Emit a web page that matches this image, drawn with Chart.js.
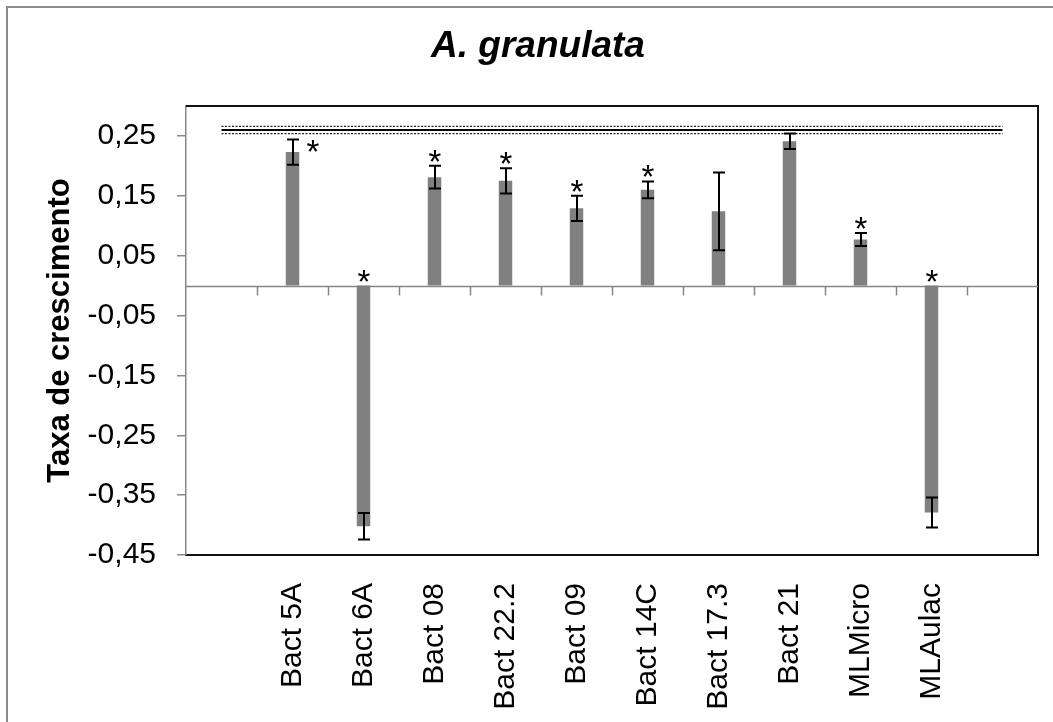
<!DOCTYPE html>
<html>
<head>
<meta charset="utf-8">
<script src="https://cdn.jsdelivr.net/npm/chart.js@4"></script>
<style>
  html, body { margin: 0; padding: 0; background: #fff; }
  #wrap { width: 1053px; height: 722px; }
</style>
</head>
<body>
<div id="wrap"><canvas id="growth-chart" width="1053" height="722"></canvas></div>
<script>
// empty slots at both ends keep the control line running past the first/last bar
const categories = ['', 'Bact 5A', 'Bact 6A', 'Bact 08', 'Bact 22.2', 'Bact 09', 'Bact 14C', 'Bact 17.3', 'Bact 21', 'MLMicro', 'MLAulac', ''];
const growthRates = [null, 0.223, -0.402, 0.181, 0.175, 0.129, 0.160, 0.124, 0.241, 0.077, -0.379, null];
const growthErrors = [null, 0.021, 0.022, 0.019, 0.021, 0.021, 0.014, 0.065, 0.013, 0.011, 0.025, null];
const significant = [false, true, true, true, true, true, true, false, false, true, true, false];
const yTicks = [0.25, 0.15, 0.05, -0.05, -0.15, -0.25, -0.35, -0.45];
const controlMean = 0.26;
const controlSd = 0.006;

const FONT = '"Liberation Sans", Arial, Helvetica, sans-serif';
const fmt = v => v.toFixed(2).replace('.', ',');

// outer frame, plot box edges and the zero line with its category ticks
const framePlugin = {
  id: 'frame',
  beforeDraw(chart) {
    const { ctx, width, height } = chart;
    ctx.save();
    ctx.fillStyle = '#fff';
    ctx.fillRect(0, 0, width, height);
    ctx.strokeStyle = '#8c8c8c';
    ctx.lineWidth = 2;
    ctx.strokeRect(7, 7, width + 20, height + 20);
    ctx.restore();
  },
  beforeDatasetsDraw(chart) {
    const { ctx, chartArea: a, scales: { x, y } } = chart;
    ctx.save();
    ctx.strokeStyle = '#111';
    ctx.lineWidth = 2;
    ctx.beginPath();
    ctx.moveTo(a.left, a.top); ctx.lineTo(a.right, a.top); ctx.lineTo(a.right, a.bottom);
    ctx.stroke();

    const y0 = Math.round(y.getPixelForValue(0)) + 0.5;
    ctx.strokeStyle = '#868686';
    ctx.lineWidth = 1.5;
    ctx.beginPath();
    ctx.moveTo(a.left, y0); ctx.lineTo(a.right, y0);
    for (let i = 1; i < categories.length; i++) {
      const bx = Math.round((x.getPixelForTick(i - 1) + x.getPixelForTick(i)) / 2) + 0.5;
      ctx.moveTo(bx, y0); ctx.lineTo(bx, y0 + 9);
    }
    ctx.stroke();
    ctx.restore();
  }
};

const errorBarPlugin = {
  id: 'errorBars',
  afterDatasetsDraw(chart) {
    const { ctx, scales: { y } } = chart;
    const bars = chart.getDatasetMeta(0).data;
    const refLow = y.getPixelForValue(controlMean - controlSd);
    ctx.save();
    ctx.strokeStyle = '#000';
    ctx.fillStyle = '#000';
    ctx.lineWidth = 2;
    ctx.font = '33px ' + FONT;
    ctx.textAlign = 'center';
    ctx.textBaseline = 'alphabetic';
    bars.forEach((bar, i) => {
      const v = growthRates[i];
      if (v == null) return;
      const e = growthErrors[i];
      const bx = Math.round(bar.x);
      const yHi = y.getPixelForValue(v + e);
      const yLo = y.getPixelForValue(v - e);
      ctx.beginPath();
      ctx.moveTo(bx, yHi); ctx.lineTo(bx, yLo);
      ctx.moveTo(bx - 6, yHi); ctx.lineTo(bx + 6, yHi);
      ctx.moveTo(bx - 6, yLo); ctx.lineTo(bx + 6, yLo);
      ctx.stroke();
      if (!significant[i]) return;
      // asterisk above the bar, or above the zero line for negative bars;
      // moved beside the bar when it would run into the control band
      const anchor = v > 0 ? yHi : y.getPixelForValue(0);
      let sx = bx, sy = anchor - 12;
      if (sy - 6 < refLow + 4) { sx = bx + 20; sy = yHi + 4; }
      ctx.fillText('*', sx, sy + 19);
    });
    ctx.restore();
  }
};

const controlLine = (value, dashed) => ({
  type: 'line',
  data: categories.map(() => value),
  borderColor: dashed ? '#222' : '#000',
  borderWidth: dashed ? 1.3 : 2,
  borderDash: dashed ? [2, 1.5] : [],
  pointRadius: 0,
  fill: false,
  order: 0
});

new Chart(document.getElementById('growth-chart'), {
  type: 'bar',
  data: {
    labels: categories,
    datasets: [
      {
        data: growthRates,
        backgroundColor: '#808080',
        barPercentage: 0.19,
        categoryPercentage: 1,
        order: 1
      },
      controlLine(controlMean, false),
      controlLine(controlMean + controlSd, true),
      controlLine(controlMean - controlSd, true)
    ]
  },
  options: {
    responsive: false,
    animation: false,
    layout: { padding: { left: 38, right: 15, top: 0, bottom: 0 } },
    plugins: {
      legend: { display: false },
      tooltip: { enabled: false },
      title: {
        display: true,
        text: 'A. granulata',
        color: '#000',
        font: { family: FONT, size: 37, weight: 'bold', style: 'italic', lineHeight: 1.2 },
        padding: { top: 25, bottom: 36.6 }
      }
    },
    scales: {
      x: {
        grid: { display: false },
        border: { display: true, color: '#111', width: 2 },
        ticks: {
          color: '#000',
          font: { family: FONT, size: 30 },
          minRotation: 90,
          maxRotation: 90,
          autoSkip: false,
          padding: 20
        },
        afterFit: s => { s.height = 167; s.paddingLeft = 0; s.paddingRight = 0; }
      },
      y: {
        min: -0.45,
        max: 0.30,
        afterBuildTicks: s => { s.ticks = yTicks.map(v => ({ value: v })); },
        grid: { drawOnChartArea: false, drawTicks: true, tickLength: 9, color: '#888', lineWidth: 1.5 },
        border: { display: true, color: '#888', width: 1.5 },
        ticks: {
          color: '#000',
          font: { family: FONT, size: 30 },
          padding: 21,
          callback: v => fmt(v)
        },
        title: {
          display: true,
          text: 'Taxa de crescimento',
          color: '#000',
          font: { family: FONT, size: 31, weight: 'bold', lineHeight: 1.2 },
          padding: { top: 3.4, bottom: 0 }
        },
        afterFit: s => { s.width = 148; s.paddingTop = 0; s.paddingBottom = 0; }
      }
    }
  },
  plugins: [framePlugin, errorBarPlugin]
});
</script>
</body>
</html>
